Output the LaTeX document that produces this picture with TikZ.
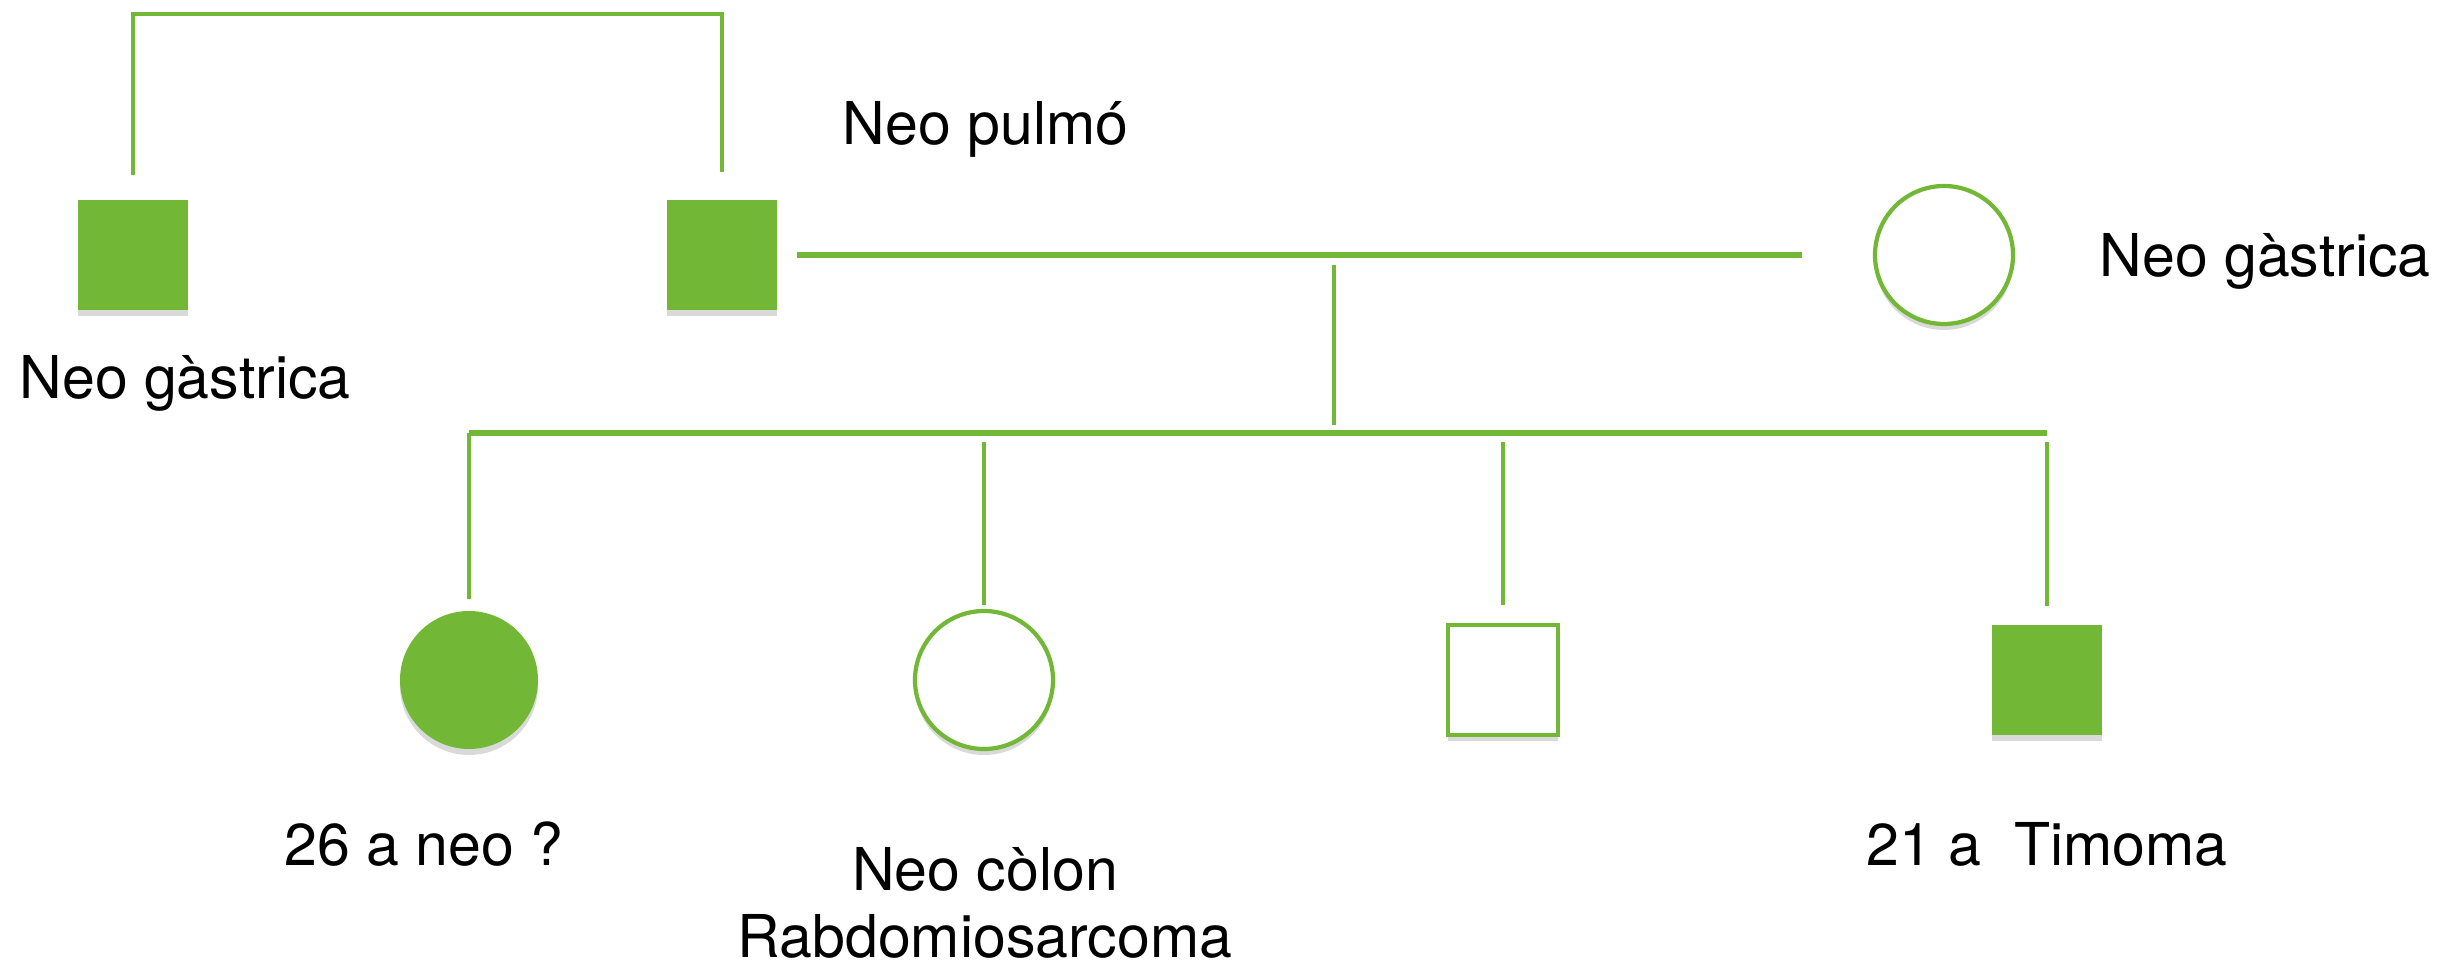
\documentclass[tikz,border=0pt]{standalone}
\usepackage{fontspec}
\setmainfont{TeX Gyre Heros}
\usetikzlibrary{shadows}
\definecolor{pedgreen}{RGB}{114,184,54}
\begin{document}
\begin{tikzpicture}[every node/.style={inner sep=0},
    sq/.style={rectangle,minimum size=1.1cm,drop shadow={shadow xshift=0cm,shadow yshift=-0.06cm,opacity=0.3}},
    ci/.style={circle,minimum size=1.38cm,drop shadow={shadow xshift=0cm,shadow yshift=-0.06cm,opacity=0.3}},
    aff/.style={fill=pedgreen},
    unaff/.style={draw=pedgreen,line width=1.2pt,fill=white},
    ln/.style={draw=pedgreen,line width=1.2pt},
    bar/.style={draw=pedgreen,line width=1.7pt},
    lbl/.style={font=\fontsize{16.8}{19}\selectfont,anchor=base}]
  \useasboundingbox (0,0) rectangle (24.41,9.67);
  % grandparents and parents
  \node [sq,aff] (gm) at (1.33,7.12) {};
  \node [sq,aff] (gf) at (7.22,7.12) {};
  \node [ci,unaff] (mo) at (19.44,7.12) {};
  % children
  \node [ci,aff] (c1) at (4.69,2.87) {};
  \node [ci,unaff] (c2) at (9.84,2.87) {};
  \node [sq,unaff] (c3) at (15.03,2.87) {};
  \node [sq,aff] (c4) at (20.47,2.87) {};
  \coordinate (gp) at (4.25,9.53);
  \coordinate (mid) at (13.34,7.02);
  \coordinate (sib) at (13.34,5.42);
  \coordinate (sl) at (13.34,5.34);
  \draw [ln,shorten <=0.24cm,shorten >=0.27cm] (gm.north) |- (gp) -| (gf.north);
  \draw [bar,shorten <=0.19cm,shorten >=0.71cm] (gf.east) -- (mo.west);
  \draw [ln] (mid) -- (sib);
  \draw [bar] (c1 |- sl) -- (c4 |- sl);
  \draw [ln,shorten >=0.11cm] (c1.north |- sl) -- (c1.north);
  \draw [ln,shorten <=0.09cm,shorten >=0.04cm] (c2.north |- sl) -- (c2.north);
  \draw [ln,shorten <=0.09cm,shorten >=0.18cm] (c3.north |- sl) -- (c3.north);
  \draw [ln,shorten <=0.09cm,shorten >=0.18cm] (c4.north |- sl) -- (c4.north);
  % labels
  \node [lbl,anchor=base west] (lgm) at (0.19,5.68) {Neo gàstrica};
  \node [lbl,anchor=base west] (lgf) at (8.42,8.22) {Neo pulmó};
  \node [lbl,anchor=base west] (lmo) at (20.99,6.90) {Neo gàstrica};
  \node [lbl] (lc1) at (4.24,1.01) {26 a neo ?};
  \node [lbl,align=center,anchor=north] (lc2) at (9.85,1.20) {Neo còlon\\Rabdomiosarcoma};
  \node [lbl] (lc4) at (20.47,1.01) {21 a\ \ Timoma};
\end{tikzpicture}
\end{document}
